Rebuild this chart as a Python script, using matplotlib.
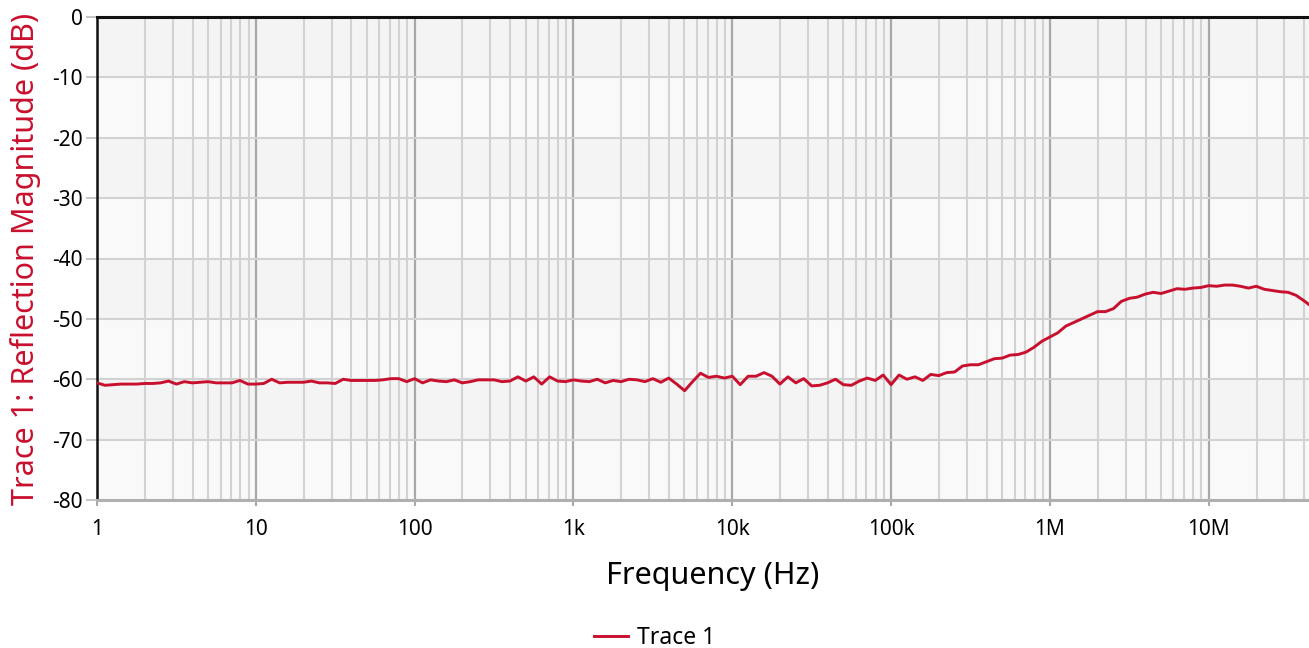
import numpy as np
import matplotlib
matplotlib.use("Agg")
import matplotlib.pyplot as plt
from matplotlib.ticker import FixedLocator, NullFormatter

plt.rcParams['font.family'] = ['Noto Sans', 'DejaVu Sans']

# sweep points: 20 per decade, from 1 Hz
decades = [0, 1, 2, 3, 4, 5, 6, 7]
mantissas = [1.0, 1.122, 1.259, 1.413, 1.585, 1.778, 1.995, 2.239, 2.512, 2.818,
             3.162, 3.548, 3.981, 4.467, 5.012, 5.623, 6.310, 7.079, 7.943, 8.913]

# reflection magnitude (dB), one row per decade
db_1hz = [-60.6, -61.0, -60.9, -60.8, -60.8, -60.8, -60.7, -60.7, -60.6, -60.3,
          -60.8, -60.4, -60.6, -60.5, -60.4, -60.6, -60.6, -60.6, -60.2, -60.8]
db_10hz = [-60.8, -60.7, -60.0, -60.6, -60.5, -60.5, -60.5, -60.3, -60.6, -60.6,
           -60.7, -60.0, -60.2, -60.2, -60.2, -60.2, -60.1, -59.9, -59.9, -60.4]
db_100hz = [-59.9, -60.6, -60.1, -60.3, -60.4, -60.1, -60.6, -60.4, -60.1, -60.1,
            -60.1, -60.4, -60.3, -59.6, -60.3, -59.6, -60.8, -59.6, -60.3, -60.4]
db_1khz = [-60.1, -60.3, -60.4, -60.0, -60.6, -60.2, -60.4, -60.0, -60.1, -60.4,
           -59.9, -60.5, -59.8, -60.8, -61.9, -60.4, -59.0, -59.7, -59.5, -59.8]
db_10khz = [-59.5, -60.9, -59.5, -59.5, -58.9, -59.5, -60.8, -59.6, -60.6, -59.9,
            -61.1, -61.0, -60.6, -60.0, -60.9, -61.0, -60.3, -59.8, -60.2, -59.3]
db_100khz = [-60.9, -59.3, -60.0, -59.6, -60.2, -59.2, -59.4, -58.9, -58.8, -57.8,
             -57.6, -57.6, -57.1, -56.6, -56.5, -56.0, -55.9, -55.5, -54.7, -53.7]
db_1mhz = [-53.0, -52.3, -51.2, -50.6, -50.0, -49.4, -48.8, -48.8, -48.3, -47.1,
           -46.6, -46.4, -45.9, -45.6, -45.8, -45.4, -45.0, -45.1, -44.9, -44.8]
db_10mhz = [-44.5, -44.6, -44.4, -44.4, -44.6, -44.9, -44.6, -45.1, -45.3, -45.5,
            -45.6, -46.1, -47.0, -48.0]

x_ticks = [1, 10, 100, 1e3, 1e4, 1e5, 1e6, 1e7]
x_tick_labels = ["1", "10", "100", "1k", "10k", "100k", "1M", "10M"]
y_ticks = [0, -10, -20, -30, -40, -50, -60, -70, -80]
y_tick_labels = ["0", "-10", "-20", "-30", "-40", "-50", "-60", "-70", "-80"]

rows = [db_1hz, db_10hz, db_100hz, db_1khz, db_10khz, db_100khz, db_1mhz, db_10mhz]
freq = []
mag = []
for d, row in zip(decades, rows):
    for m, v in zip(mantissas, row):
        freq.append(m * 10 ** d)
        mag.append(v)

trace_color = "#c8102e"

fig = plt.figure(figsize=(13.09, 6.48), dpi=100)
ax = fig.add_axes([97 / 1309, 1 - 500 / 648, 1 - 97 / 1309, 483 / 648])
ax.set_xscale("log")
ax.set_xlim(1, 4.28e7)
ax.set_ylim(-80, 0)

# alternating horizontal bands
ax.set_facecolor("#f9f9f9")
for top in y_ticks[:-1:2]:
    ax.axhspan(top - 10, top, color="#f4f4f4", zorder=0, lw=0)

# minor decade grid
minor = [m * 10 ** d for d in decades for m in range(2, 10)]
ax.xaxis.set_minor_locator(FixedLocator(minor))
ax.xaxis.set_minor_formatter(NullFormatter())
ax.grid(which="minor", axis="x", color="#d2d2d2", lw=1.5, zorder=1)
ax.grid(which="major", axis="x", color="#a8a8a8", lw=1.6, zorder=1)
ax.grid(which="major", axis="y", color="#d2d2d2", lw=1.5, zorder=1)
ax.set_axisbelow(True)

ax.plot(freq, mag, color=trace_color, lw=2.1, label="Trace 1", zorder=3)

ax.xaxis.set_major_locator(FixedLocator(x_ticks))
ax.set_xticklabels(x_tick_labels)
ax.set_yticks(y_ticks)
ax.set_yticklabels(y_tick_labels)
ax.tick_params(axis="x", which="major", length=4, color="#a8a8a8", width=1.5,
               labelsize=15, pad=10)
ax.tick_params(axis="x", which="minor", length=0)
ax.tick_params(axis="y", length=8, color="#bbbbbb", width=1.2, labelsize=15, pad=2)

ax.spines["right"].set_visible(False)
ax.spines["top"].set_color("#111111")
ax.spines["top"].set_linewidth(2.2)
ax.spines["left"].set_color("#111111")
ax.spines["left"].set_linewidth(1.8)
ax.spines["bottom"].set_color("#b0b0b0")
ax.spines["bottom"].set_linewidth(2.2)

ax.set_xlabel("Frequency (Hz)", fontsize=22, labelpad=15)
ax.xaxis.label.set_x(0.508)
ax.set_ylabel("Trace 1: Reflection Magnitude (dB)", fontsize=22, color=trace_color,
              labelpad=8)

fig.legend(loc="center", bbox_to_anchor=(0.5, 1 - 638 / 648), frameon=False,
           fontsize=16.5, handlelength=1.5, handletextpad=0.4)

fig.savefig("out.png", dpi=100)
